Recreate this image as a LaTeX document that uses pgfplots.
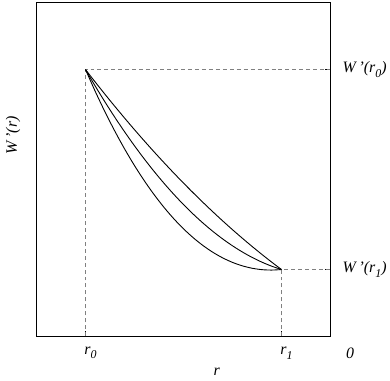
\documentclass[border=0pt]{standalone}
\usepackage{pgfplots}
\pgfplotsset{compat=1.18}
\usepackage{fontspec}
\setmainfont{Liberation Serif}
\newcommand{\sub}[1]{\raisebox{-0.6ex}{\fontsize{12}{14}\selectfont\textit{#1}}}
\begin{document}
\begin{tikzpicture}[x=1pt,y=1pt]
\begin{axis}[
  scale only axis, width=295pt, height=336pt,
  xmin=37, xmax=332, ymin=0, ymax=336,
  clip=false,
  axis line style={line width=0.8pt},
  xtick={86,283}, xticklabels={}, ytick={67,268}, yticklabels={},
  xtick pos=bottom, ytick pos=right, tick align=inside,
  major tick length=5pt,
  tick style={line width=1.6pt, black},
  every axis plot/.append style={line width=0.9pt},
]
\addplot[gray, line width=0.6pt, dash pattern=on 4pt off 3pt] coordinates {(86,0) (86,268) (332,268)};
\addplot[gray, line width=0.6pt, dash pattern=on 4pt off 3pt] coordinates {(283,0) (283,67) (332,67)};
\addplot[black, smooth] coordinates {(86,268) (95.85,255.37) (105.7,243.02) (115.55,230.93) (125.4,219.12) (135.25,207.57) (145.1,196.30) (154.95,185.30) (164.8,174.58) (174.65,164.12) (184.5,153.93) (194.35,144.02) (204.2,134.38) (214.05,125.00) (223.9,115.90) (233.75,107.07) (243.6,98.52) (253.45,90.23) (263.3,82.22) (273.15,74.47) (283,67)};
\addplot[black, smooth] coordinates {(86,268) (95.85,251.27) (105.7,235.24) (115.55,219.91) (125.4,205.29) (135.25,191.37) (145.1,178.15) (154.95,165.64) (164.8,153.83) (174.65,142.73) (184.5,132.32) (194.35,122.63) (204.2,113.63) (214.05,105.34) (223.9,97.75) (233.75,90.87) (243.6,84.69) (253.45,79.21) (263.3,74.44) (273.15,70.37) (283,67)};
\addplot[black, smooth] coordinates {(86,268) (95.85,245.91) (105.7,225.23) (115.55,205.96) (125.4,188.05) (135.25,171.49) (145.1,156.25) (154.95,142.30) (164.8,129.62) (174.65,118.18) (184.5,107.95) (194.35,98.92) (204.2,91.06) (214.05,84.33) (223.9,78.72) (233.75,74.19) (243.6,70.73) (253.45,68.31) (263.3,66.89) (273.15,66.47) (283,67)};
\node[anchor=west, font=\fontsize{16}{18}\selectfont] at (axis cs:341,268) {\textit{W\,'(r}\sub{0}\textit{)}};
\node[anchor=west, font=\fontsize{16}{18}\selectfont] at (axis cs:341,67) {\textit{W\,'(r}\sub{1}\textit{)}};
\node[font=\fontsize{16}{18}\selectfont] at (axis cs:91,-17) {\textit{r}\sub{0}};
\node[font=\fontsize{16}{18}\selectfont] at (axis cs:288,-17) {\textit{r}\sub{1}};
\node[font=\fontsize{16}{18}\selectfont] at (axis cs:352,-17) {\textit{0}};
\node[font=\fontsize{16}{18}\selectfont] at (axis cs:218,-36) {\textit{r}};
\node[rotate=90, font=\fontsize{16}{18}\selectfont] at (axis cs:13,202) {\textit{W\,'(r)}};
\path (axis cs:0,-45) rectangle (axis cs:390,338);
\end{axis}
\end{tikzpicture}
\end{document}
